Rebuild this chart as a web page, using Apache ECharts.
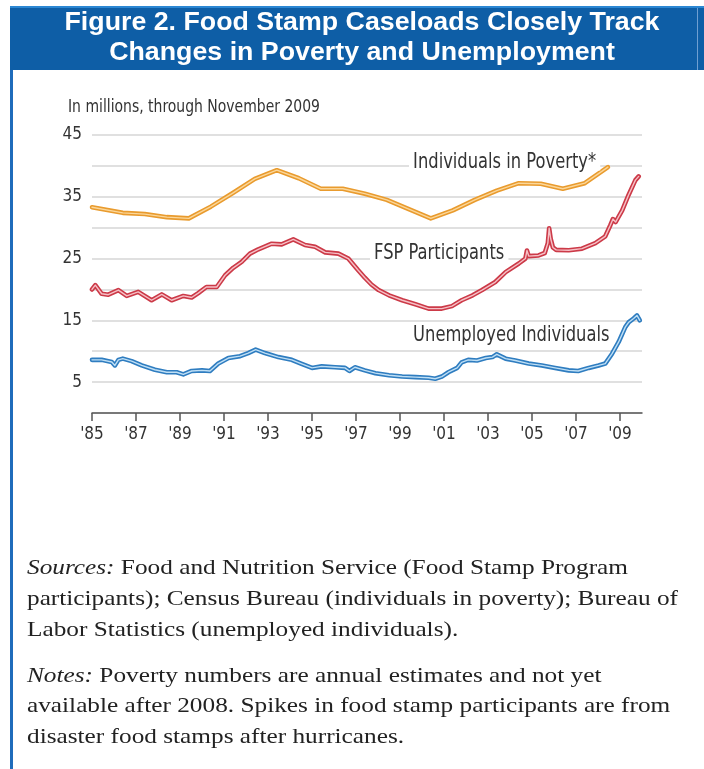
<!DOCTYPE html>
<html>
<head>
<meta charset="utf-8">
<script src="https://cdn.jsdelivr.net/npm/echarts@6/dist/echarts.min.js"></script>
<style>
  html, body { margin: 0; padding: 0; background: #fff; }
  #chart { width: 704px; height: 769px; }
</style>
</head>
<body>
<div id="chart"></div>
<script>
// ---- Data ----
const xTickYears = [1985, 1987, 1989, 1991, 1993, 1995, 1997, 1999, 2001, 2003, 2005, 2007, 2009];
const yTickLabels = [5, 15, 25, 35, 45];

// Individuals in poverty (annual estimates), millions
const povertyX = [1985.0, 1986.4, 1987.4, 1988.4, 1989.4, 1990.4, 1991.4, 1992.4, 1993.4, 1994.4, 1995.4, 1996.4,
                  1997.4, 1998.4, 1999.4, 2000.4, 2001.4, 2002.4, 2003.4, 2004.4, 2005.4, 2006.4, 2007.4, 2008.45];
const povertyY = [33.3, 32.4, 32.2, 31.7, 31.5, 33.4, 35.6, 37.9, 39.3, 38.0, 36.3, 36.3,
                  35.5, 34.5, 33.0, 31.5, 32.8, 34.5, 36.0, 37.2, 37.1, 36.3, 37.2, 39.8];

// Food Stamp Program participants, millions
const fspX = [1985.0, 1985.15, 1985.44, 1985.74, 1986.2, 1986.58, 1987.1, 1987.71, 1988.17, 1988.62, 1989.15, 1989.53,
              1989.83, 1990.2, 1990.67, 1991.05, 1991.42, 1991.8, 1992.18, 1992.56, 1993.17, 1993.62, 1994.15, 1994.68,
              1995.14, 1995.6, 1996.2, 1996.65, 1997.1, 1997.4, 1997.7, 1998.03, 1998.5, 1999.1, 1999.7, 2000.3,
              2000.9, 2001.36, 2001.8, 2002.3, 2002.73, 2003.33, 2003.8, 2004.4, 2004.7, 2004.77, 2004.85, 2005.3,
              2005.58, 2005.72, 2005.78, 2005.85, 2005.95, 2006.1, 2006.67, 2007.27, 2007.88, 2008.33, 2008.56, 2008.68,
              2008.8, 2009.1, 2009.39, 2009.7, 2009.85];
const fspY = [20.0, 20.7, 19.3, 19.15, 19.9, 18.95, 19.6, 18.25, 19.2, 18.25, 18.95, 18.7,
              19.4, 20.4, 20.4, 22.3, 23.5, 24.45, 25.8, 26.5, 27.4, 27.3, 28.1, 27.2,
              26.9, 26.0, 25.8, 25.0, 23.1, 21.9, 20.8, 19.9, 19.05, 18.25, 17.6, 16.9,
              16.9, 17.3, 18.25, 19.05, 19.9, 21.2, 22.8, 24.2, 25.0, 26.3, 25.4, 25.5,
              25.9, 27.5, 29.9, 28.2, 26.8, 26.4, 26.35, 26.6, 27.5, 28.6, 30.4, 31.4,
              30.9, 32.8, 35.3, 37.7, 38.3];

// Unemployed individuals, millions
const unempX = [1985.0, 1985.44, 1985.9, 1986.04, 1986.2, 1986.4, 1986.8, 1987.26, 1987.86, 1988.4, 1988.85, 1989.15,
                1989.53, 1990.0, 1990.36, 1990.74, 1991.2, 1991.73, 1992.1, 1992.44, 1992.86, 1993.47, 1994.08, 1994.5,
                1995.0, 1995.44, 1996.05, 1996.5, 1996.7, 1996.95, 1997.4, 1997.88, 1998.5, 1999.1, 1999.7, 2000.3,
                2000.6, 2000.9, 2001.2, 2001.6, 2001.8, 2002.1, 2002.5, 2002.9, 2003.2, 2003.4, 2003.8, 2004.24,
                2004.85, 2005.45, 2006.05, 2006.67, 2007.1, 2007.58, 2008.03, 2008.33, 2008.64, 2008.94, 2009.24, 2009.4,
                2009.62, 2009.77, 2009.9];
const unempY = [8.6, 8.6, 8.25, 7.7, 8.6, 8.8, 8.4, 7.7, 7.0, 6.6, 6.6, 6.25,
                6.8, 6.9, 6.8, 8.0, 8.9, 9.2, 9.7, 10.25, 9.7, 9.05, 8.6, 8.0,
                7.3, 7.55, 7.4, 7.3, 6.8, 7.4, 6.9, 6.45, 6.1, 5.9, 5.8, 5.7,
                5.55, 5.9, 6.6, 7.3, 8.2, 8.6, 8.5, 8.9, 9.05, 9.5, 8.8, 8.5,
                8.0, 7.7, 7.3, 6.9, 6.8, 7.3, 7.7, 8.0, 9.6, 11.5, 13.9, 14.7,
                15.3, 15.8, 15.0];

const seriesNames = ['Individuals in Poverty*', 'FSP Participants', 'Unemployed Individuals'];
const titleLines = ['Figure 2. Food Stamp Caseloads Closely Track', 'Changes in Poverty and Unemployment'];
const subtitleText = 'In millions, through November 2009';

// ---- Styling ----
const NARROW = '"Liberation Sans Narrow", "DejaVu Sans Condensed", "Roboto Condensed", sans-serif';
const SANS = '"Liberation Sans", Arial, sans-serif';
const SERIF = '"Liberation Serif", "DejaVu Serif", serif';

const mctx = document.createElement('canvas').getContext('2d');
function textWidth(text, font) { mctx.font = font; return mctx.measureText(text).width; }

function zip(xs, ys) { return xs.map((x, i) => [x, ys[i]]); }

function doubleLine(name, data, outer, inner) {
  return [
    { name: name, type: 'line', data: data, showSymbol: false, z: 2,
      lineStyle: { color: outer, width: 4.6, cap: 'round', join: 'round' }, silent: true },
    { name: name + ' core', type: 'line', data: data, showSymbol: false, z: 3,
      lineStyle: { color: inner, width: 1.4, cap: 'round', join: 'round' }, silent: true }
  ];
}

const chart = echarts.init(document.getElementById('chart'), null, { renderer: 'canvas' });

// fonts and horizontal scales to mimic the condensed / wide reference typefaces
const titleFont = 'bold 25px ' + SANS;
const titleScale = 595 / textWidth(titleLines[0], titleFont);
const labelFont = '22px ' + NARROW;
const labelScale = 183 / textWidth(seriesNames[0], labelFont);
const subFont = '17px ' + NARROW;
const subScale = 252 / textWidth(subtitleText, subFont);
const footFont = '22px ' + SERIF;
const footScale = 651 / textWidth('participants); Census Bureau (individuals in poverty); Bureau of', footFont);

const footerLines = [
  { y: 568, text: '{i|Sources:} Food and Nutrition Service (Food Stamp Program' },
  { y: 599, text: 'participants); Census Bureau (individuals in poverty); Bureau of' },
  { y: 630, text: 'Labor Statistics (unemployed individuals).' },
  { y: 676, text: '{i|Notes:} Poverty numbers are annual estimates and not yet' },
  { y: 706, text: 'available after 2008. Spikes in food stamp participants are from' },
  { y: 737, text: 'disaster food stamps after hurricanes.' }
];

function label(text, x, y) {
  return { type: 'text', z: 102, x: x, y: y, scaleX: labelScale,
    style: { text: text, x: 0, y: 0, font: labelFont, lineHeight: 17, fill: '#333333', align: 'left',
      verticalAlign: 'middle', backgroundColor: '#ffffff', padding: [0, 5, 0, 5] } };
}

const graphics = [
  // header band
  { type: 'rect', shape: { x: 10, y: 6, width: 694, height: 64 }, style: { fill: '#0e5ea6' }, z: 100 },
  { type: 'rect', shape: { x: 10, y: 6, width: 694, height: 2 }, style: { fill: '#2b87d3' }, z: 101 },
  { type: 'rect', shape: { x: 697, y: 8, width: 1, height: 62 }, style: { fill: '#6f9fd2' }, z: 101 },
  // left border
  { type: 'rect', shape: { x: 10, y: 70, width: 3, height: 699 }, style: { fill: '#1f6cbb' }, z: 100 },
  // title
  { type: 'text', z: 102, x: 362, y: 23, scaleX: titleScale, style: { text: titleLines[0], x: 0, y: 0,
      font: titleFont, fill: '#ffffff', align: 'center', verticalAlign: 'middle' } },
  { type: 'text', z: 102, x: 362, y: 53, scaleX: titleScale, style: { text: titleLines[1], x: 0, y: 0,
      font: titleFont, fill: '#ffffff', align: 'center', verticalAlign: 'middle' } },
  // subtitle
  { type: 'text', z: 102, x: 68, y: 108, scaleX: subScale, style: { text: subtitleText, x: 0, y: 0,
      font: subFont, fill: '#333333', align: 'left', verticalAlign: 'middle' } },
  // series labels
  label(seriesNames[0], 409, 162),
  label(seriesNames[1], 370, 253),
  label(seriesNames[2], 409, 335)
];

footerLines.forEach(l => {
  graphics.push({ type: 'text', z: 102, x: 27, y: l.y, scaleX: footScale, style: {
    text: l.text, x: 0, y: 0, font: footFont, fill: '#222222', align: 'left', verticalAlign: 'middle',
    rich: { i: { fontStyle: 'italic', fontFamily: SERIF, fontSize: 22, fill: '#222222' } }
  } });
});

const option = {
  backgroundColor: '#ffffff',
  animation: false,
  grid: { left: 92, right: 62, top: 135, bottom: 356, containLabel: false },
  xAxis: {
    type: 'value', min: 1985, max: 2010,
    axisLine: { show: true, lineStyle: { color: '#555555', width: 1.5 } },
    axisTick: { show: true, customValues: xTickYears, length: 8, lineStyle: { color: '#555555', width: 1.5 } },
    axisLabel: { customValues: xTickYears, formatter: v => "'" + String(v).slice(2), margin: 13,
      fontSize: 17, color: '#333333', fontFamily: NARROW },
    splitLine: { show: false }
  },
  yAxis: {
    type: 'value', min: 0, max: 45, interval: 5,
    axisLine: { show: false }, axisTick: { show: false },
    axisLabel: { formatter: v => (yTickLabels.indexOf(v) >= 0 ? String(v) : ''), margin: 10,
      fontSize: 17, color: '#333333', fontFamily: NARROW },
    splitLine: { show: true, lineStyle: { color: '#d6d6d6', width: 1.5 } }
  },
  series: [
    ...doubleLine(seriesNames[0], zip(povertyX, povertyY), '#e99b2e', '#fbd79a'),
    ...doubleLine(seriesNames[1], zip(fspX, fspY), '#cc3a48', '#f6c0c6'),
    ...doubleLine(seriesNames[2], zip(unempX, unempY), '#2f7dc0', '#bfdff5')
  ],
  graphic: graphics
};

chart.setOption(option);
</script>
</body>
</html>
